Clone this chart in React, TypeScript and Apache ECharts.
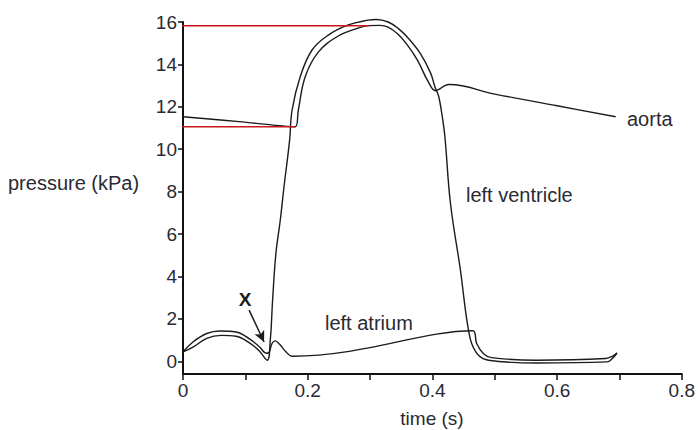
import React, { useEffect, useRef } from "react";
import * as echarts from "echarts";

// ---- data (time in s, pressure in kPa) ----
const xTickValues = [0, 0.1, 0.2, 0.3, 0.4, 0.5, 0.6, 0.7, 0.8];
const xLabelValues = [0, 0.2, 0.4, 0.6, 0.8];
const yTickValues = [0, 2, 4, 6, 8, 10, 12, 14, 16];

const aortaPoints: number[][] = [
  [0, 11.53], [0.09, 11.3], [0.18, 11.06], [0.185, 11.85], [0.196, 13.42],
  [0.217, 14.58], [0.249, 15.34], [0.281, 15.71], [0.298, 15.83], [0.315, 15.84],
  [0.329, 15.76], [0.345, 15.42], [0.36, 14.91], [0.376, 14.2], [0.393, 13.2],
  [0.405, 12.76], [0.412, 12.85], [0.42, 13.0], [0.427, 13.05], [0.5, 12.6],
  [0.6, 12.05], [0.694, 11.53],
];

const ventriclePoints: number[][] = [
  [0, 0.44], [0.016, 0.67], [0.038, 1.08], [0.061, 1.22], [0.085, 1.18],
  [0.106, 0.88], [0.122, 0.5], [0.135, 0.05], [0.14, 1.0], [0.1437, 2.88],
  [0.149, 5.08], [0.156, 6.65], [0.162, 8.23], [0.171, 10.43], [0.175, 11.85],
  [0.188, 13.42], [0.207, 14.68], [0.233, 15.38], [0.265, 15.86], [0.297, 16.09],
  [0.31, 16.12], [0.329, 16.0], [0.345, 15.7], [0.36, 15.28], [0.381, 14.5],
  [0.397, 13.6], [0.404, 12.95], [0.41, 12.5], [0.415, 11.7], [0.42, 10.6],
  [0.429, 7.44], [0.445, 4.29], [0.453, 2.41], [0.458, 1.46], [0.463, 0.84],
  [0.474, 0.28], [0.49, 0.05], [0.567, -0.08], [0.68, -0.03], [0.689, 0.14],
  [0.696, 0.39],
];

const atriumPoints: number[][] = [
  [0, 0.44], [0.016, 0.91], [0.038, 1.31], [0.059, 1.43], [0.085, 1.38],
  [0.106, 1.07], [0.122, 0.7], [0.134, 0.38], [0.138, 0.42], [0.143, 0.85],
  [0.148, 0.96], [0.155, 0.8], [0.165, 0.45], [0.175, 0.24], [0.465, 1.44],
  [0.471, 0.84], [0.482, 0.36], [0.495, 0.17], [0.567, 0.05], [0.678, 0.13],
  [0.689, 0.24], [0.696, 0.39],
];

const refHighLine: number[][] = [[-0.005, 15.82], [0.298, 15.82]];
const refLowLine: number[][] = [[-0.009, 11.06], [0.18, 11.06]];
const arrowFrom = [0.106, 2.41];
const arrowTo = [0.13, 0.91];

const FONT = "'Liberation Sans', Arial, sans-serif";
const INK = "#1b1b1b";
const TEXT = "#2a2a33";

export default function App() {
  const ref = useRef<HTMLDivElement>(null);

  useEffect(() => {
    if (!ref.current) return;
    const chart = echarts.init(ref.current, undefined, { renderer: "svg" });

    const curve = (name: string, data: number[][], extra: any = {}) => ({
      type: "line",
      name,
      data,
      showSymbol: false,
      smooth: 0.4,
      clip: false,
      lineStyle: { color: INK, width: 1.4 },
      silent: true,
      z: 3,
      ...extra,
    });

    const redLine = (name: string, data: number[][]) => ({
      type: "line",
      name,
      data,
      showSymbol: false,
      clip: false,
      lineStyle: { color: "#c8161d", width: 1.5 },
      silent: true,
      z: 4,
    });

    chart.setOption({
      animation: false,
      backgroundColor: "#ffffff",
      grid: { left: 183, right: 11, top: 22, bottom: 56 },
      xAxis: {
        type: "value",
        min: 0,
        max: 0.8,
        interval: 0.1,
        axisLine: { onZero: false, lineStyle: { color: "#111", width: 2 } },
        axisTick: { length: 6, lineStyle: { color: "#111", width: 1.5 }, customValues: xTickValues },
        axisLabel: {
          customValues: xLabelValues,
          formatter: (v: number) => (v === 0 ? "0" : String(Math.round(v * 10) / 10)),
          color: TEXT,
          fontFamily: FONT,
          fontSize: 19,
          margin: 7,
        },
        splitLine: { show: false },
      },
      yAxis: {
        type: "value",
        min: -0.6,
        max: 16,
        axisLine: { onZero: false, lineStyle: { color: "#111", width: 2 } },
        axisTick: { length: 5, lineStyle: { color: "#111", width: 1.5 }, customValues: yTickValues },
        axisLabel: {
          customValues: yTickValues,
          color: TEXT,
          fontFamily: FONT,
          fontSize: 19,
          margin: 6,
        },
        splitLine: { show: false },
      },
      graphic: [
        { type: "text", x: 8, y: 183, style: { text: "pressure (kPa)", fill: TEXT, font: `20px ${FONT}`, verticalAlign: "middle" } },
        { type: "text", x: 432, y: 418, style: { text: "time (s)", fill: TEXT, font: `19px ${FONT}`, align: "center", verticalAlign: "middle" } },
        { type: "text", x: 627, y: 119, style: { text: "aorta", fill: TEXT, font: `20px ${FONT}`, verticalAlign: "middle" } },
        { type: "text", x: 466, y: 195, style: { text: "left ventricle", fill: TEXT, font: `20px ${FONT}`, verticalAlign: "middle" } },
        { type: "text", x: 325, y: 323, style: { text: "left atrium", fill: TEXT, font: `20px ${FONT}`, verticalAlign: "middle" } },
        { type: "text", x: 245, y: 299, style: { text: "X", fill: INK, font: `bold 19px ${FONT}`, align: "center", verticalAlign: "middle" } },
      ],
      series: [
        curve("aorta", aortaPoints),
        curve("left ventricle", ventriclePoints),
        curve("left atrium", atriumPoints, {
          markLine: {
            silent: true,
            symbol: ["none", "arrow"],
            symbolSize: [8, 11],
            label: { show: false },
            lineStyle: { color: INK, width: 1.5, type: "solid" },
            data: [[{ coord: arrowFrom }, { coord: arrowTo }]],
          },
        }),
        redLine("ref high", refHighLine),
        redLine("ref low", refLowLine),
      ],
    });

    return () => chart.dispose();
  }, []);

  return (
    <div
      ref={ref}
      style={{ position: "fixed", left: 0, top: 0, width: 698, height: 430, background: "#fff" }}
    />
  );
}
